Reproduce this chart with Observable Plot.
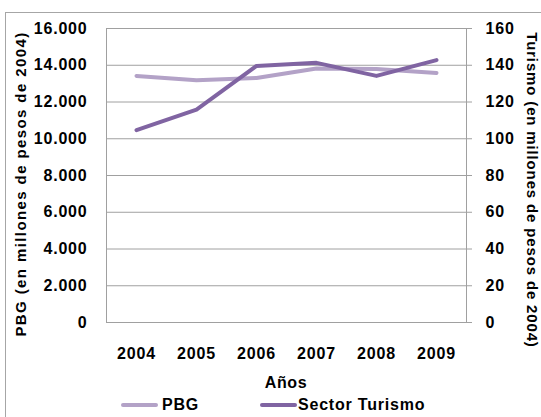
<!DOCTYPE html>
<html>
<head>
<meta charset="utf-8">
<script src="https://cdn.jsdelivr.net/npm/d3@7"></script>
<script src="https://cdn.jsdelivr.net/npm/@observablehq/plot@0.6"></script>
<style>
  html, body { margin: 0; padding: 0; background: white; overflow: hidden; }
  #wrap { position: relative; width: 541px; height: 417px; overflow: hidden; font-family: "Liberation Sans", Arial, sans-serif; font-weight: bold; color: #000; }
  #chart { position: absolute; left: 0; top: 0; }
  #border { position: absolute; left: 5px; top: 12px; width: 700px; height: 600px; border: 1px solid #a6a6a6; pointer-events: none; }
  .ttl { position: absolute; white-space: nowrap; font-size: 15px; line-height: 1; }
  #ytl { left: 20px; top: 184px; transform: translate(-50%, -50%) rotate(-90deg); letter-spacing: 1.4px; }
  #ytr { left: 532px; top: 190px; transform: translate(-50%, -50%) rotate(90deg); letter-spacing: 0.85px; }
  #xt { left: 286px; top: 383px; transform: translate(-50%, -50%); font-size: 16px; letter-spacing: 0.6px; }
  #legend { position: absolute; top: 396px; left: 0; height: 18px; font-size: 16px; letter-spacing: 0.8px; }
  .item { position: absolute; top: 0; display: flex; align-items: center; height: 18px; white-space: nowrap; }
  .sw { display: inline-block; width: 37px; height: 4px; border-radius: 2px; }
</style>
</head>
<body>
<div id="wrap">
  <div id="chart"></div>
  <div id="border"></div>
  <div class="ttl" id="ytl"></div>
  <div class="ttl" id="ytr"></div>
  <div class="ttl" id="xt"></div>
  <div id="legend"></div>
</div>
<script>
// ---- data ----
const years = ["2004", "2005", "2006", "2007", "2008", "2009"];
const pbg = [13420, 13190, 13310, 13820, 13790, 13580];           // left axis, millones de pesos de 2004
const turismo = [104.7, 115.9, 139.6, 141.3, 134.2, 142.8];        // right axis, millones de pesos de 2004
const leftTicks = [0, 2000, 4000, 6000, 8000, 10000, 12000, 14000, 16000];
const rightTicks = [0, 20, 40, 60, 80, 100, 120, 140, 160];
const seriesNames = ["PBG", "Sector Turismo"];
const seriesColors = ["#b3a2c7", "#8064a2"];
const leftTitle = "PBG (en millones de pesos de 2004)";
const rightTitle = "Turismo (en millones de pesos de 2004)";
const xTitle = "Años";

// right axis is mapped onto the left scale
const ratio = leftTicks[leftTicks.length - 1] / rightTicks[rightTicks.length - 1];

const rows = [];
years.forEach((y, i) => rows.push({year: y, value: pbg[i], series: seriesNames[0]}));
years.forEach((y, i) => rows.push({year: y, value: turismo[i] * ratio, series: seriesNames[1]}));

const fmtThousands = d => d3.format(",")(d).replace(/,/g, ".");
const grid = "#a0a0a0";

const plot = Plot.plot({
  width: 541,
  height: 380,
  marginLeft: 106,
  marginRight: 75,
  marginTop: 28,
  marginBottom: 58,
  style: {fontFamily: "'Liberation Sans', Arial, sans-serif", fontSize: "16px", fontWeight: "bold", color: "#000", background: "transparent", letterSpacing: "0.8px", overflow: "visible"},
  x: {type: "point", domain: years, padding: 0.5},
  y: {domain: [leftTicks[0], leftTicks[leftTicks.length - 1]]},
  color: {domain: seriesNames, range: seriesColors},
  marks: [
    Plot.gridY(leftTicks, {stroke: grid, strokeOpacity: 1, strokeWidth: 1}),
    Plot.frame({stroke: grid, strokeWidth: 1}),
    Plot.axisY(leftTicks, {anchor: "left", tickSize: 0, tickPadding: 19, tickFormat: fmtThousands, label: null}),
    Plot.axisY(rightTicks.map(v => v * ratio), {anchor: "right", tickSize: 5, tickPadding: 14, stroke: grid, tickFormat: d => String(Math.round(d / ratio)), label: null}),
    Plot.axisX(years, {tickSize: 0, tickPadding: 25, label: null}),
    Plot.line(rows.filter(d => d.series === seriesNames[0]), {x: "year", y: "value", stroke: "series", strokeWidth: 4, strokeLinejoin: "round", strokeLinecap: "round"}),
    Plot.line(rows.filter(d => d.series === seriesNames[1]), {x: "year", y: "value", stroke: "series", strokeWidth: 4, strokeLinejoin: "round", strokeLinecap: "round"})
  ]
});
document.getElementById("chart").appendChild(plot);

document.getElementById("ytl").textContent = leftTitle;
document.getElementById("ytr").textContent = rightTitle;
document.getElementById("xt").textContent = xTitle;

const legendPos = [{sw: 121, gap: 4}, {sw: 260, gap: 1}];
const legend = document.getElementById("legend");
seriesNames.forEach((name, i) => {
  const item = document.createElement("div");
  item.className = "item";
  item.style.left = legendPos[i].sw + "px";
  const sw = document.createElement("span");
  sw.className = "sw";
  sw.style.background = seriesColors[i];
  sw.style.marginRight = legendPos[i].gap + "px";
  const t = document.createElement("span");
  t.textContent = name;
  item.appendChild(sw);
  item.appendChild(t);
  legend.appendChild(item);
});
</script>
</body>
</html>
